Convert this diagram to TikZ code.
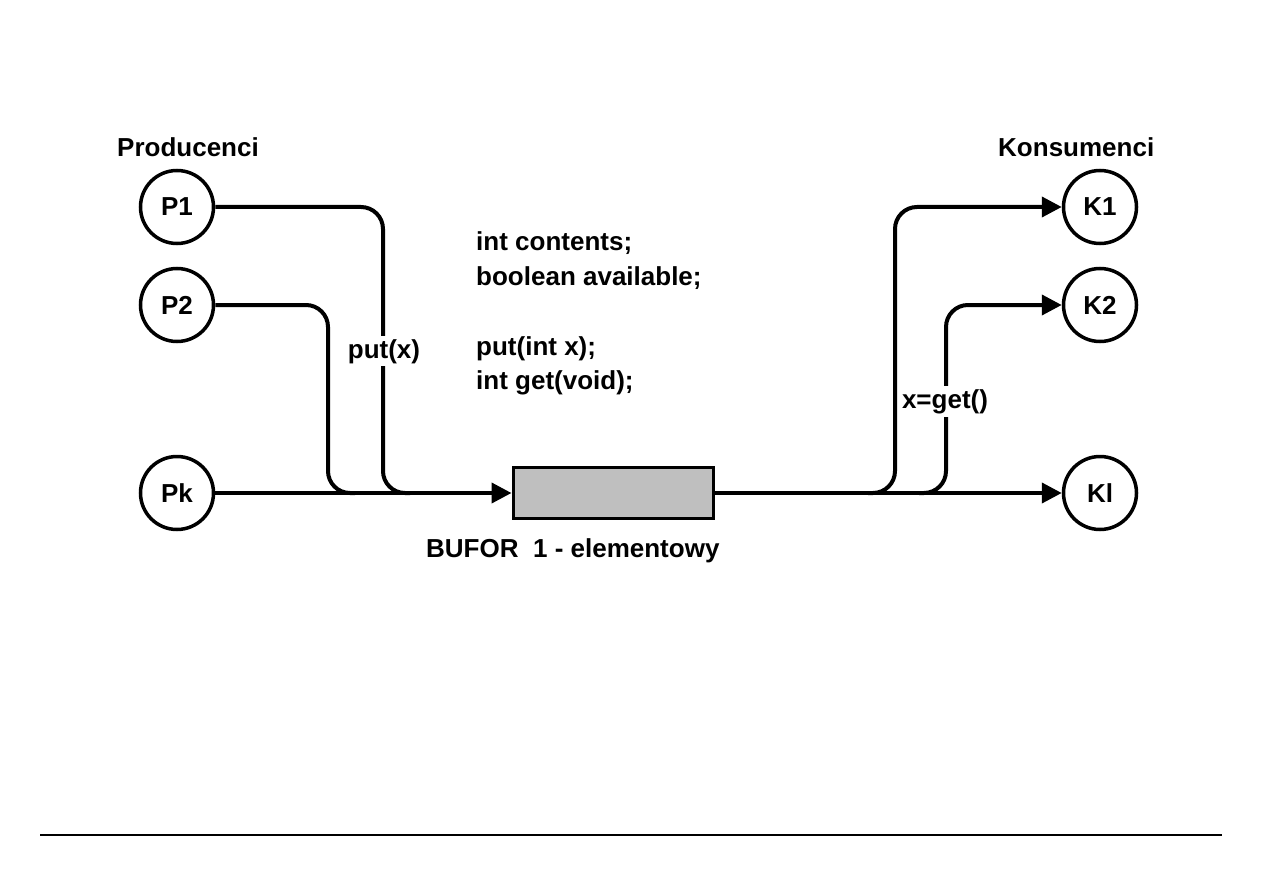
\documentclass[tikz,border=0pt]{standalone}
\usepackage{fontspec}
\setmainfont{Liberation Sans}
\usetikzlibrary{arrows.meta}
\begin{document}
\begin{tikzpicture}[x=1pt,y=-1pt,
  every node/.style={font=\fontsize{26}{31}\selectfont\bfseries},
  proc/.style={circle,draw,line width=3.5pt,minimum size=73pt,inner sep=0pt},
  flow/.style={line width=4pt},
  tip/.style={-{Triangle[length=20pt,width=20pt]}},
  lbl/.style={fill=white,inner sep=3pt},
  txt/.style={anchor=base west,inner sep=0pt}]
\useasboundingbox (0,0) rectangle (1263,893);
% nodes
\node[proc] (p1) at (177,207) {P1};
\node[proc] (p2) at (177,305) {P2};
\node[proc] (pk) at (177,493) {Pk};
\node[proc] (k1) at (1100,207) {K1};
\node[proc] (k2) at (1100,305) {K2};
\node[proc] (kl) at (1100,493) {Kl};
\node[draw,line width=3pt,fill=black!25,minimum width=200pt,minimum height=51pt,inner sep=0pt] (buf) at (613,493) {};
\node[txt] (prod) at (117,157) {Producenci};
\node[txt] (kons) at (998,157) {Konsumenci};
\node[txt] (c1) at (476,251) {int contents;};
\node[txt] (c2) at (476,286) {boolean available;};
\node[txt] (c3) at (476,355) {put(int x);};
\node[txt] (c4) at (476,389) {int get(void);};
\node[txt] (bl) at (426,557) {BUFOR\ \ 1 - elementowy};
% junction coordinates
\coordinate (j1) at (383,493);
\coordinate (j1e) at (410,493);
\coordinate (j2) at (328,493);
\coordinate (j2e) at (355,493);
\coordinate (s1) at (868,493);
\coordinate (v1) at (895,493);
\coordinate (s2) at (919,493);
\coordinate (v2) at (946,493);
% connectors
\draw[flow,rounded corners=22pt] (p1.east) -| (j1) -- (j1e);
\draw[flow,rounded corners=22pt] (p2.east) -| (j2) -- (j2e);
\draw[flow,tip] (pk.east) -- (buf.west);
\draw[flow,tip] (buf.east) -- (kl.west);
\draw[flow,tip,rounded corners=22pt] (s1) -- (v1) |- (k1.west);
\draw[flow,tip,rounded corners=22pt] (s2) -- (v2) |- (k2.west);
% labels on connectors
\node[lbl,anchor=base] (put) at (384,358) {put(x)};
\node[lbl,anchor=base,inner xsep=4pt] (get) at (945,408) {x=get()};
% separator
\draw[line width=1.5pt] (40,835) -- (1222,835);
\end{tikzpicture}
\end{document}
